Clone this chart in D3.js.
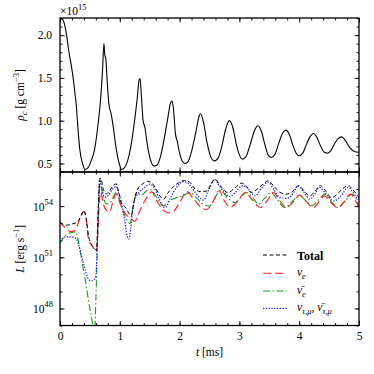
<!DOCTYPE html>
<html>
<head>
<meta charset="utf-8">
<script src="https://cdn.jsdelivr.net/npm/d3@7/dist/d3.min.js"></script>
<style>
  body { margin: 0; background: #fff; }
  text { font-family: "Liberation Serif", "DejaVu Serif", serif; fill: #000; }
  .tick line { stroke: #000; stroke-width: 0.9; }
  .tick text { font-size: 11.5px; }
</style>
</head>
<body>
<svg id="chart"></svg>
<script>
// central density, [t (ms), rho / 1e15 g cm^-3]
const rhoCentral = [
  [0.00, 2.19], [0.03, 2.19], [0.07, 2.14], [0.11, 2.0], [0.15, 1.8], [0.19, 1.64],
  [0.22, 1.5], [0.25, 1.32], [0.27, 1.2], [0.30, 0.91], [0.33, 0.67], [0.385, 0.48],
  [0.42, 0.43], [0.47, 0.45], [0.52, 0.53], [0.58, 0.67], [0.635, 0.95], [0.68, 1.26],
  [0.71, 1.57], [0.735, 1.9], [0.75, 1.76], [0.765, 1.73], [0.79, 1.45], [0.82, 1.18],
  [0.855, 1.08], [0.89, 0.93], [0.94, 0.67], [0.99, 0.5], [1.03, 0.43], [1.08, 0.45],
  [1.13, 0.53], [1.19, 0.72], [1.24, 0.96], [1.29, 1.25], [1.325, 1.48], [1.34, 1.49],
  [1.36, 1.3], [1.39, 1.0], [1.42, 0.92], [1.46, 0.72], [1.51, 0.55], [1.57, 0.47],
  [1.62, 0.48], [1.68, 0.58], [1.74, 0.78], [1.80, 1.02], [1.85, 1.21], [1.875, 1.23],
  [1.90, 1.12], [1.93, 0.85], [1.96, 0.76], [2.0, 0.62], [2.05, 0.52], [2.09, 0.5],
  [2.14, 0.52], [2.2, 0.64], [2.27, 0.86], [2.33, 1.06], [2.35, 1.08], [2.4, 0.98],
  [2.46, 0.74], [2.52, 0.58], [2.58, 0.53], [2.64, 0.56], [2.7, 0.68], [2.77, 0.9],
  [2.83, 1.0], [2.89, 0.92], [2.95, 0.72], [3.0, 0.6], [3.05, 0.55], [3.11, 0.58],
  [3.18, 0.72], [3.25, 0.88], [3.31, 0.94], [3.37, 0.87], [3.43, 0.71], [3.48, 0.6],
  [3.53, 0.57], [3.59, 0.6], [3.66, 0.74], [3.72, 0.85], [3.78, 0.89], [3.84, 0.83],
  [3.9, 0.7], [3.95, 0.62], [4.0, 0.59], [4.06, 0.62], [4.12, 0.72], [4.18, 0.81],
  [4.24, 0.85], [4.3, 0.8], [4.36, 0.7], [4.42, 0.63], [4.47, 0.62], [4.53, 0.65],
  [4.59, 0.73], [4.65, 0.79], [4.71, 0.81], [4.77, 0.77], [4.84, 0.69], [4.92, 0.64],
  [5.0, 0.63]
];

// luminosities, [t (ms), log10 L (erg/s)]
const lumTotal = [
  [0.0, 53.05], [0.1, 52.88], [0.2, 52.95], [0.3, 53.1], [0.36, 53.48], [0.4, 53.72],
  [0.44, 53.25], [0.48, 52.2], [0.52, 51.8], [0.57, 51.55], [0.61, 51.4], [0.635, 53.5],
  [0.66, 55.3], [0.68, 55.64], [0.72, 55.05], [0.77, 54.72], [0.82, 54.85], [0.9, 55.25],
  [0.94, 55.3], [0.98, 54.85], [1.03, 54.2], [1.1, 53.9], [1.19, 53.45], [1.24, 54.3],
  [1.3, 55.0], [1.38, 55.3], [1.46, 55.45], [1.52, 55.4], [1.6, 55.05], [1.68, 54.55],
  [1.73, 54.4], [1.8, 54.75], [1.9, 55.15], [2.0, 55.4], [2.08, 55.5], [2.17, 55.4],
  [2.26, 55.0], [2.35, 54.85], [2.45, 54.88], [2.52, 55.25], [2.59, 55.58], [2.68, 55.2],
  [2.81, 54.8], [2.92, 55.05], [3.04, 55.35], [3.12, 55.15], [3.2, 54.8], [3.3, 55.0],
  [3.4, 55.3], [3.48, 55.48], [3.58, 55.15], [3.68, 54.8], [3.78, 54.7], [3.87, 54.8],
  [3.99, 55.19], [4.08, 54.9], [4.18, 54.6], [4.26, 54.85], [4.35, 55.2], [4.45, 54.85],
  [4.54, 54.5], [4.62, 54.65], [4.72, 55.0], [4.82, 55.2], [4.9, 54.95], [5.0, 54.5]
];
const lumNuE = [
  [0.0, 53.1], [0.05, 52.85], [0.1, 52.7], [0.18, 52.5], [0.24, 52.55], [0.3, 52.95],
  [0.35, 53.45], [0.4, 53.69], [0.44, 53.2], [0.47, 52.2], [0.52, 51.75], [0.57, 51.5],
  [0.61, 51.35], [0.635, 52.5], [0.66, 54.3], [0.68, 54.82], [0.72, 54.2], [0.76, 53.82],
  [0.83, 53.65], [0.88, 54.2], [0.94, 54.72], [0.99, 54.3], [1.03, 53.94], [1.12, 53.45],
  [1.19, 53.26], [1.25, 53.1], [1.32, 53.6], [1.4, 54.2], [1.47, 54.6], [1.53, 54.84],
  [1.62, 54.3], [1.72, 53.8], [1.82, 53.6], [1.9, 53.7], [2.0, 54.2], [2.12, 54.85],
  [2.22, 54.5], [2.35, 53.95], [2.45, 53.8], [2.55, 54.2], [2.66, 54.9], [2.75, 54.3],
  [2.85, 53.95], [2.95, 54.2], [3.1, 54.8], [3.22, 54.35], [3.35, 53.92], [3.45, 54.25],
  [3.57, 54.8], [3.68, 54.3], [3.79, 53.92], [3.9, 54.25], [4.01, 54.65], [4.12, 54.25],
  [4.24, 53.92], [4.34, 54.3], [4.42, 54.6], [4.53, 54.2], [4.64, 53.92], [4.75, 54.25],
  [4.86, 54.7], [4.94, 54.3], [5.0, 53.95]
];
const lumNuEBar = [
  [0.0, 51.8], [0.06, 52.15], [0.13, 52.38], [0.2, 52.45], [0.26, 52.5], [0.3, 52.1],
  [0.34, 51.3], [0.38, 50.5], [0.43, 49.5], [0.47, 48.6], [0.51, 47.8], [0.555, 47.0],
  [0.58, 46.8], [0.6, 48.5], [0.62, 51.0], [0.645, 54.0], [0.67, 55.35], [0.72, 54.6],
  [0.77, 54.13], [0.84, 54.2], [0.9, 54.6], [0.94, 54.82], [0.99, 54.4], [1.04, 53.84],
  [1.11, 53.26], [1.17, 52.97], [1.22, 53.9], [1.28, 54.8], [1.36, 54.65], [1.45, 54.9],
  [1.52, 54.95], [1.6, 54.6], [1.67, 54.2], [1.73, 54.02], [1.82, 54.3], [1.95, 54.5],
  [2.06, 54.6], [2.17, 54.8], [2.28, 54.5], [2.42, 54.05], [2.5, 54.0], [2.58, 54.4],
  [2.68, 54.92], [2.8, 54.5], [2.93, 54.2], [3.02, 54.5], [3.12, 54.8], [3.22, 54.5],
  [3.32, 54.12], [3.42, 54.45], [3.53, 54.8], [3.64, 54.35], [3.76, 53.92], [3.88, 54.25],
  [4.0, 54.62], [4.1, 54.35], [4.21, 54.02], [4.32, 54.35], [4.43, 54.7], [4.54, 54.25],
  [4.65, 53.92], [4.77, 54.3], [4.88, 54.7], [5.0, 54.0]
];
const lumNuX = [
  [0.0, 51.95], [0.05, 52.15], [0.1, 52.2], [0.2, 52.2], [0.27, 52.1], [0.33, 51.5],
  [0.38, 50.8], [0.42, 50.3], [0.47, 49.75], [0.52, 49.62], [0.57, 49.7], [0.6, 49.9],
  [0.62, 51.5], [0.64, 53.8], [0.66, 55.6], [0.7, 55.0], [0.75, 54.53], [0.8, 54.6],
  [0.88, 55.0], [0.94, 55.15], [0.99, 54.6], [1.04, 53.95], [1.08, 53.2], [1.12, 52.3],
  [1.15, 52.07], [1.18, 52.6], [1.22, 53.94], [1.28, 54.6], [1.33, 54.85], [1.4, 55.05],
  [1.5, 55.29], [1.57, 55.1], [1.65, 54.5], [1.73, 53.95], [1.76, 53.92], [1.85, 54.5],
  [1.95, 55.1], [2.06, 55.44], [2.12, 55.4], [2.22, 55.0], [2.32, 54.55], [2.4, 54.35],
  [2.48, 54.9], [2.59, 55.56], [2.66, 55.2], [2.75, 54.8], [2.84, 54.55], [2.93, 54.8],
  [3.05, 55.2], [3.15, 55.0], [3.26, 54.6], [3.36, 55.0], [3.48, 55.4], [3.58, 54.95],
  [3.68, 54.5], [3.8, 54.45], [3.9, 54.75], [3.98, 55.2], [4.08, 54.8], [4.18, 54.41],
  [4.26, 54.7], [4.34, 55.1], [4.45, 54.7], [4.58, 54.3], [4.7, 54.6], [4.82, 55.1],
  [4.9, 54.8], [5.0, 54.3]
];

const xTicks = [0, 1, 2, 3, 4, 5];
const rhoTicks = [0.5, 1.0, 1.5, 2.0];
const lumTicks = [48, 51, 54];

const w = 374;
const h = 374;
const left = 60;
const right = 359;
const topY = 18;
const midY = 172;
const bottomY = 325.5;

const svg = d3.select("#chart").attr("width", w).attr("height", h);

const xScale = d3.scaleLinear().domain([0, 5]).range([left, right]);
const rhoScale = d3.scaleLinear().domain([0.4, 2.2]).range([midY, topY]);
const lumScale = d3.scaleLog().domain([1e47, 1e56]).range([bottomY, midY]);

const defs = svg.append("defs");
defs.append("clipPath").attr("id", "clipTop")
  .append("rect").attr("x", left).attr("y", topY).attr("width", right - left).attr("height", midY - topY);
defs.append("clipPath").attr("id", "clipBottom")
  .append("rect").attr("x", left).attr("y", midY).attr("width", right - left).attr("height", bottomY - midY);

// ticks: all pointing inward, major + minor
const xMinor = d3.range(0, 5.001, 0.2);
const rhoMinor = d3.range(0.4, 2.201, 0.1);
const lumMinor = d3.range(47, 56.001, 1).map((e) => Math.pow(10, e));

const addAxis = (axisFn, scale, values, size, y, x, fmt, pad) => {
  const g = svg.append("g")
    .attr("transform", "translate(" + (x || 0) + "," + (y || 0) + ")")
    .call(axisFn(scale).tickValues(values).tickSize(-size).tickPadding(pad || 3).tickFormat(fmt || (() => "")));
  g.select(".domain").remove();
  return g;
};

// top panel
addAxis(d3.axisLeft, rhoScale, rhoMinor, 2.5, 0, left);
addAxis(d3.axisLeft, rhoScale, rhoTicks, 4.5, 0, left, d3.format(".1f"), 8);
addAxis(d3.axisRight, rhoScale, rhoMinor, 2.5, 0, right);
addAxis(d3.axisRight, rhoScale, rhoTicks, 4.5, 0, right);
addAxis(d3.axisTop, xScale, xMinor, 2.5, topY);
addAxis(d3.axisTop, xScale, xTicks, 4.5, topY);
addAxis(d3.axisBottom, xScale, xMinor, 2.5, midY);
addAxis(d3.axisBottom, xScale, xTicks, 4.5, midY);

// bottom panel
addAxis(d3.axisLeft, lumScale, lumMinor, 2.5, 0, left);
addAxis(d3.axisLeft, lumScale, lumTicks.map((e) => Math.pow(10, e)), 4.5, 0, left);
addAxis(d3.axisRight, lumScale, lumMinor, 2.5, 0, right);
addAxis(d3.axisRight, lumScale, lumTicks.map((e) => Math.pow(10, e)), 4.5, 0, right);
addAxis(d3.axisTop, xScale, xMinor, 2.5, midY);
addAxis(d3.axisTop, xScale, xTicks, 4.5, midY);
addAxis(d3.axisBottom, xScale, xMinor, 2.5, bottomY);
addAxis(d3.axisBottom, xScale, xTicks, 4.5, bottomY, 0, d3.format("d"), 6);

// log tick labels with superscripts
lumTicks.forEach((e) => {
  const t = svg.append("text")
    .attr("x", left - 7)
    .attr("y", lumScale(Math.pow(10, e)) + 4.5)
    .attr("text-anchor", "end")
    .style("font-size", "11.5px");
  t.append("tspan").text("10");
  t.append("tspan").attr("dy", -6).style("font-size", "8.5px").text(e);
});

// curves
const rhoLine = d3.line()
  .x((d) => xScale(d[0]))
  .y((d) => rhoScale(d[1]))
  .curve(d3.curveMonotoneX);

svg.append("path")
  .datum(rhoCentral)
  .attr("clip-path", "url(#clipTop)")
  .attr("d", rhoLine)
  .attr("fill", "none")
  .attr("stroke", "#000")
  .attr("stroke-width", 1.1);

const lumLine = d3.line()
  .x((d) => xScale(d[0]))
  .y((d) => lumScale(Math.pow(10, d[1])))
  .curve(d3.curveMonotoneX);

const series = [
  { data: lumNuEBar, color: "#1f9a1f", dash: "7,2.5,1.5,2.5", width: 1.1 },
  { data: lumNuE, color: "#ff1a1a", dash: "8,4", width: 1.1 },
  { data: lumNuX, color: "#1a1aff", dash: "1.3,1.5", width: 1.2 },
  { data: lumTotal, color: "#000", dash: "4,2.5", width: 1.0 },
];

svg.append("g")
  .attr("clip-path", "url(#clipBottom)")
  .selectAll("path")
  .data(series)
  .enter()
  .append("path")
  .attr("d", (s) => lumLine(s.data))
  .attr("fill", "none")
  .attr("stroke", (s) => s.color)
  .attr("stroke-dasharray", (s) => s.dash)
  .attr("stroke-width", (s) => s.width);

// frames
svg.append("rect")
  .attr("x", left).attr("y", topY).attr("width", right - left).attr("height", midY - topY)
  .attr("fill", "none").attr("stroke", "#000").attr("stroke-width", 1.3);
svg.append("rect")
  .attr("x", left).attr("y", midY).attr("width", right - left).attr("height", bottomY - midY)
  .attr("fill", "none").attr("stroke", "#000").attr("stroke-width", 1.3);

// offset text
const offset = svg.append("text").attr("x", left).attr("y", 15).style("font-size", "11.5px");
offset.append("tspan").text("\u00d710");
offset.append("tspan").attr("dy", -5).style("font-size", "8.5px").text("15");

// y labels
const rhoLabel = svg.append("text")
  .attr("transform", "translate(24," + (topY + midY) / 2 + ") rotate(-90)")
  .attr("text-anchor", "middle")
  .style("font-size", "11.5px");
rhoLabel.append("tspan").style("font-style", "italic").text("\u03c1");
rhoLabel.append("tspan").attr("dy", 2.5).style("font-style", "italic").style("font-size", "8.5px").text("c");
rhoLabel.append("tspan").attr("dy", -2.5).text(" [g cm");
rhoLabel.append("tspan").attr("dy", -5).style("font-size", "8.5px").text("\u22123");
rhoLabel.append("tspan").attr("dy", 5).text("]");

const lumLabel = svg.append("text")
  .attr("transform", "translate(24," + (midY + bottomY) / 2 + ") rotate(-90)")
  .attr("text-anchor", "middle")
  .style("font-size", "11.5px");
lumLabel.append("tspan").style("font-style", "italic").text("L");
lumLabel.append("tspan").text(" [erg s");
lumLabel.append("tspan").attr("dy", -5).style("font-size", "8.5px").text("\u22121");
lumLabel.append("tspan").attr("dy", 5).text("]");

// x label
const xLabel = svg.append("text")
  .attr("x", (left + right) / 2)
  .attr("y", 356)
  .attr("text-anchor", "middle")
  .style("font-size", "11.5px");
xLabel.append("tspan").style("font-style", "italic").text("t");
xLabel.append("tspan").text(" [ms]");

// legend
const legend = svg.append("g").attr("id", "legend");
const legendRows = [
  { s: series[3], y: 255 },
  { s: series[1], y: 273.3 },
  { s: series[0], y: 291 },
  { s: series[2], y: 308.3 },
];
legend.selectAll("line")
  .data(legendRows)
  .enter()
  .append("line")
  .attr("x1", 263).attr("x2", 287)
  .attr("y1", (d) => d.y).attr("y2", (d) => d.y)
  .attr("stroke", (d) => d.s.color)
  .attr("stroke-dasharray", (d) => d.s.dash)
  .attr("stroke-width", (d) => d.s.width);

legend.append("text").attr("x", 297).attr("y", 259.5)
  .style("font-size", "12px").style("font-weight", "bold").text("Total");

const nuE = legend.append("text").attr("x", 297).attr("y", 276).style("font-size", "11.5px");
nuE.append("tspan").style("font-style", "italic").text("\u03bd");
nuE.append("tspan").attr("dy", 2.5).style("font-style", "italic").style("font-size", "8.5px").text("e");

const nuEBar = legend.append("text").attr("x", 297).attr("y", 294).style("font-size", "11.5px");
nuEBar.append("tspan").style("font-style", "italic").text("\u03bd\u0304");
nuEBar.append("tspan").attr("dy", 2.5).style("font-style", "italic").style("font-size", "8.5px").text("e");

const nuX = legend.append("text").attr("x", 297).attr("y", 311).style("font-size", "11.5px");
nuX.append("tspan").style("font-style", "italic").text("\u03bd");
nuX.append("tspan").attr("dy", 2.5).style("font-style", "italic").style("font-size", "8.5px").text("\u03c4,\u03bc");
nuX.append("tspan").attr("dy", -2.5).text(", ");
nuX.append("tspan").style("font-style", "italic").text("\u03bd\u0304");
nuX.append("tspan").attr("dy", 2.5).style("font-style", "italic").style("font-size", "8.5px").text("\u03c4,\u03bc");
</script>
</body>
</html>
